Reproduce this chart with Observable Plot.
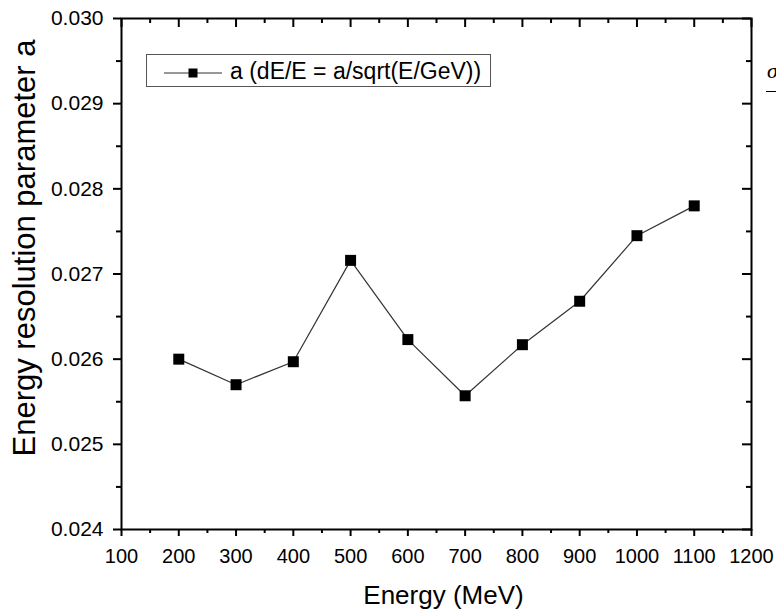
<!DOCTYPE html>
<html>
<head>
<meta charset="utf-8">
<script src="https://cdn.jsdelivr.net/npm/d3@7"></script>
<script src="https://cdn.jsdelivr.net/npm/@observablehq/plot@0.6"></script>
<style>
  html, body { margin: 0; padding: 0; background: #fff; }
  #wrap { position: relative; width: 776px; height: 611px; overflow: hidden; font-family: "Liberation Sans", Arial, sans-serif; }
  #legend { position: absolute; left: 146px; top: 54px; width: 343px; height: 31px; border: 1.5px solid #555; background: #fff; }
  #legend svg { position: absolute; left: 15px; top: 0; }
  #legend .lab { position: absolute; left: 83px; top: 1px; font-size: 23px; line-height: 30px; color: #000; white-space: nowrap; }
  #side { position: absolute; left: 767px; top: 58px; font-family: "Liberation Serif", serif; font-style: italic; font-size: 22px; color: #000; }
  #sideline { position: absolute; left: 766px; top: 91px; width: 12px; border-top: 1.5px solid #000; }
</style>
</head>
<body>
<div id="wrap"></div>
<script>
const energy = [200, 300, 400, 500, 600, 700, 800, 900, 1000, 1100];
const aValues = [0.02600, 0.02570, 0.02597, 0.02716, 0.02623, 0.02557, 0.02617, 0.02668, 0.02745, 0.02780];
const xMajor = [100, 200, 300, 400, 500, 600, 700, 800, 900, 1000, 1100, 1200];
const xMinor = [150, 250, 350, 450, 550, 650, 750, 850, 950, 1050, 1150];
const yMajor = [0.024, 0.025, 0.026, 0.027, 0.028, 0.029, 0.030];
const yMinor = [0.0245, 0.0255, 0.0265, 0.0275, 0.0285, 0.0295];
const xTitle = "Energy (MeV)";
const yTitle = "Energy resolution parameter a";
const legendLabel = "a (dE/E = a/sqrt(E/GeV))";

const data = energy.map((e, i) => ({energy: e, a: aValues[i]}));

const W = 776, H = 611;
const mL = 121, mR = 25, mT = 18, mB = 82;
const pw = W - mL - mR, ph = H - mT - mB;

const chart = Plot.plot({
  width: W,
  height: H,
  marginLeft: mL,
  marginRight: mR,
  marginTop: mT,
  marginBottom: mB,
  style: {fontFamily: "'Liberation Sans', Arial, sans-serif", color: "#000", background: "#fff", overflow: "visible"},
  x: {domain: [100, 1200]},
  y: {domain: [0.024, 0.030]},
  marks: [
    Plot.axisX(xMajor, {anchor: "bottom", tickSize: 7, tickPadding: 12, fontSize: 20, strokeWidth: 2, tickFormat: d => String(d), label: null}),
    Plot.axisX(xMinor, {anchor: "bottom", tickSize: 4, strokeWidth: 2, tickFormat: () => "", label: null}),
    Plot.axisY(yMajor, {anchor: "left", tickSize: 8, tickPadding: 10, fontSize: 21, strokeWidth: 2, tickFormat: d3.format(".3f"), label: null}),
    Plot.axisY(yMinor, {anchor: "left", tickSize: 5, strokeWidth: 2, tickFormat: () => "", label: null}),
    Plot.tickX(xMajor, {x: d => d, insetBottom: ph - 9, stroke: "black", strokeWidth: 2}),
    Plot.tickX(xMinor, {x: d => d, insetBottom: ph - 5, stroke: "black", strokeWidth: 2}),
    Plot.tickY(yMajor, {y: d => d, insetLeft: pw - 9, stroke: "black", strokeWidth: 2}),
    Plot.tickY(yMinor, {y: d => d, insetLeft: pw - 5, stroke: "black", strokeWidth: 2}),
    Plot.frame({stroke: "black", strokeWidth: 2}),
    Plot.line(data, {x: "energy", y: "a", stroke: "#333", strokeWidth: 1.2}),
    Plot.dot(data, {x: "energy", y: "a", symbol: "square", r: 6.2, fill: "black", stroke: null}),
    Plot.text([xTitle], {frameAnchor: "bottom", textAnchor: "middle", lineAnchor: "middle", dx: 7, dy: 66, fontSize: 26, fill: "black"}),
    Plot.text([yTitle], {frameAnchor: "left", textAnchor: "middle", lineAnchor: "middle", rotate: -90, dx: -96, dy: -26, fontSize: 31, fill: "black"})
  ]
});

const wrap = document.getElementById("wrap");
wrap.appendChild(chart);

const legend = document.createElement("div");
legend.id = "legend";
legend.innerHTML = `<svg width="65" height="31"><line x1="2" y1="18" x2="60" y2="18" stroke="#333" stroke-width="1.2"/><rect x="26.5" y="13.5" width="9" height="9" fill="black"/></svg><span class="lab"></span>`;
legend.querySelector(".lab").textContent = legendLabel;
wrap.appendChild(legend);

const side = document.createElement("div");
side.id = "side";
side.textContent = "σ";
wrap.appendChild(side);
const sl = document.createElement("div");
sl.id = "sideline";
wrap.appendChild(sl);
</script>
</body>
</html>
